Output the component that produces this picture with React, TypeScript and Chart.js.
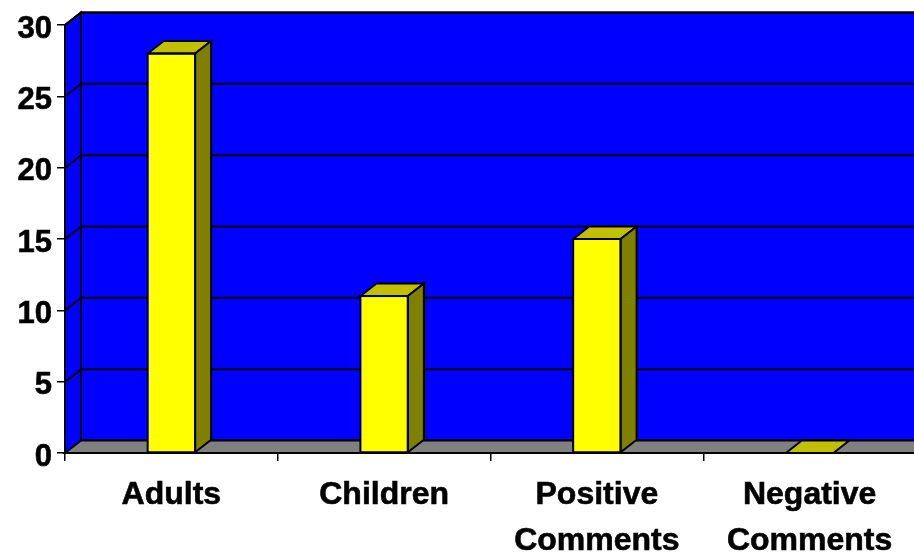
import React, { useEffect, useRef } from "react";
import { Chart, registerables } from "chart.js";

Chart.register(...registerables);

const categories: string[][] = [["Adults"], ["Children"], ["Positive", "Comments"], ["Negative", "Comments"]];
const values: number[] = [28, 11, 15, 0];
const yMax = 30;
const yStep = 5;

const DX = 16;
const DY = 12.5;
const LABEL_SHIFT = 4;
const FONT = "'Liberation Sans', Arial, sans-serif";

const wallsPlugin = {
  id: "walls",
  afterLayout(chart: any) {
    for (const id of ["x", "y"]) {
      const scale = chart.scales[id];
      const orig = scale._computeLabelItems;
      scale._computeLabelItems = function (area: any) {
        return orig.call(scale, area).map((item: any) => ({
          ...item,
          options: {
            ...item.options,
            translation: [item.options.translation[0], item.options.translation[1] + LABEL_SHIFT],
          },
        }));
      };
    }
  },
  beforeDraw(chart: any) {
    const { ctx, chartArea, scales } = chart;
    const { left, right, top, bottom } = chartArea;
    ctx.save();
    ctx.lineWidth = 2;
    ctx.strokeStyle = "#000";
    ctx.lineJoin = "miter";
    // back wall
    ctx.fillStyle = "#0000ff";
    ctx.beginPath();
    ctx.rect(left + DX, top - DY, right - left, bottom - top);
    ctx.fill();
    ctx.stroke();
    // left wall
    ctx.beginPath();
    ctx.moveTo(left, bottom);
    ctx.lineTo(left, top);
    ctx.lineTo(left + DX, top - DY);
    ctx.lineTo(left + DX, bottom - DY);
    ctx.closePath();
    ctx.fill();
    ctx.stroke();
    // floor
    ctx.fillStyle = "#808080";
    ctx.beginPath();
    ctx.moveTo(left, bottom);
    ctx.lineTo(left + DX, bottom - DY);
    ctx.lineTo(right + DX, bottom - DY);
    ctx.lineTo(right, bottom);
    ctx.closePath();
    ctx.fill();
    ctx.stroke();
    // gridlines
    for (const t of scales.y.ticks) {
      const y = scales.y.getPixelForValue(t.value);
      if (t.value === 0) continue;
      ctx.beginPath();
      ctx.moveTo(left, y);
      ctx.lineTo(left + DX, y - DY);
      ctx.lineTo(right + DX, y - DY);
      ctx.stroke();
    }
    ctx.restore();
  },
  afterDatasetsDraw(chart: any) {
    const { ctx } = chart;
    const meta = chart.getDatasetMeta(0);
    ctx.save();
    ctx.lineWidth = 2;
    ctx.strokeStyle = "#000";
    ctx.lineJoin = "miter";
    meta.data.forEach((bar: any) => {
      const { x, y, base, width } = bar.getProps(["x", "y", "base", "width"], true);
      const l = x - width / 2;
      const r = x + width / 2;
      // top face
      ctx.fillStyle = "#c0c000";
      ctx.beginPath();
      ctx.moveTo(l, y);
      ctx.lineTo(l + DX, y - DY);
      ctx.lineTo(r + DX, y - DY);
      ctx.lineTo(r, y);
      ctx.closePath();
      ctx.fill();
      ctx.stroke();
      // side face
      if (base - y > 0.5) {
        ctx.fillStyle = "#808000";
        ctx.beginPath();
        ctx.moveTo(r, y);
        ctx.lineTo(r + DX, y - DY);
        ctx.lineTo(r + DX, base - DY);
        ctx.lineTo(r, base);
        ctx.closePath();
        ctx.fill();
        ctx.stroke();
        // front face outline
        ctx.strokeRect(l, y, width, base - y);
      }
    });
    ctx.restore();
  },
};

export default function App() {
  const ref = useRef<HTMLCanvasElement>(null);
  useEffect(() => {
    const chart = new Chart(ref.current!, {
      type: "bar",
      data: {
        labels: categories as any,
        datasets: [
          {
            data: values,
            backgroundColor: "#ffff00",
            borderWidth: 0,
            barPercentage: 0.446,
            categoryPercentage: 0.5,
          },
        ],
      },
      options: {
        animation: false,
        responsive: false,
        devicePixelRatio: 1,
        layout: { padding: { top: 25, right: 14, left: 0, bottom: 0 } },
        plugins: { legend: { display: false }, tooltip: { enabled: false } },
        scales: {
          x: {
            grid: { drawOnChartArea: false, color: "#000", tickLength: 8, offset: true, lineWidth: 1.5 },
            border: { color: "#000", width: 2 },
            afterFit: (s: any) => {
              s.height = 99;
            },
            ticks: {
              color: "#000",
              padding: 7,
              maxRotation: 0,
              minRotation: 0,
              autoSkip: false,
              textStrokeColor: "#000",
              textStrokeWidth: 0.6,
              font: { family: FONT, size: 32, weight: "bold", lineHeight: 1.45 },
            },
          },
          y: {
            min: 0,
            max: yMax,
            grid: { drawOnChartArea: false, color: "#000", tickLength: 8, lineWidth: 1.5 },
            border: { color: "#000", width: 2 },
            afterFit: (s: any) => {
              s.width = 65;
            },
            ticks: {
              stepSize: yStep,
              color: "#000",
              padding: 5,
              textStrokeColor: "#000",
              textStrokeWidth: 0.6,
              font: { family: FONT, size: 31, weight: "bold" },
            },
          },
        },
      },
      plugins: [wallsPlugin],
    } as any);
    return () => chart.destroy();
  }, []);
  return (
    <div style={{ position: "fixed", left: 0, top: 0, width: 914, height: 552, overflow: "hidden", background: "#fff" }}>
      <canvas ref={ref} width={930} height={552} style={{ display: "block" }} />
    </div>
  );
}
